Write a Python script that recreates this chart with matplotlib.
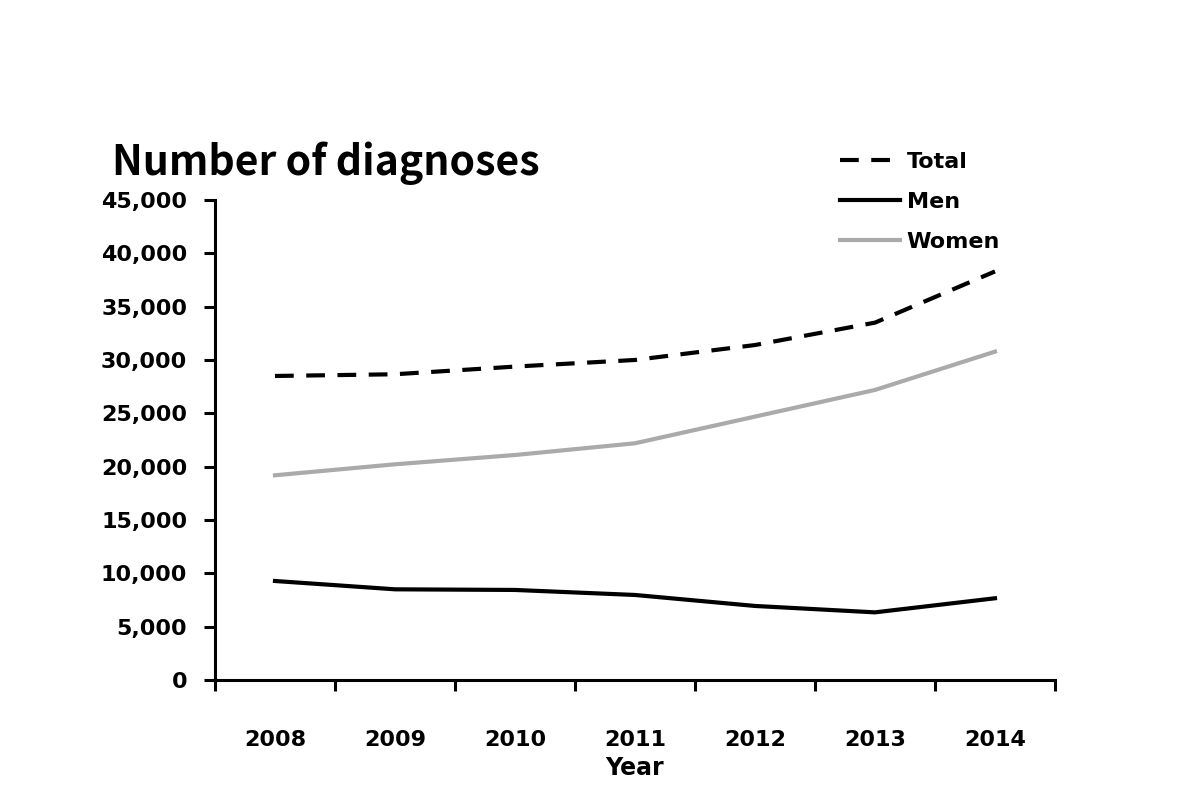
import numpy as np
import matplotlib
matplotlib.use('Agg')
import matplotlib.pyplot as plt
from matplotlib.ticker import FuncFormatter

plt.rcParams['font.family'] = ['DejaVu Sans']

years = ['2008', '2009', '2010', '2011', '2012', '2013', '2014']
total = [28500, 28660, 29380, 30000, 31400, 33500, 38300]
men = [9280, 8500, 8440, 7970, 6940, 6340, 7660]
women = [19190, 20220, 21090, 22190, 24690, 27190, 30780]

fig = plt.figure(figsize=(11.91, 8.05), dpi=100)
ax = fig.add_axes([0.1805, 0.1553, 0.7053, 0.5963])

x = np.arange(len(years)) + 0.5
ax.plot(x, total, color='black', lw=3, ls=(0, (4.5, 3)), label='Total')
ax.plot(x, men, color='black', lw=3, label='Men')
ax.plot(x, women, color='#aaaaaa', lw=3, label='Women')

ax.set_xlim(0, len(years))
ax.set_ylim(0, 45000)
ax.set_xticks(np.arange(len(years) + 1))
ax.set_xticklabels([])
ax.set_xticks(x, minor=True)
ax.set_xticklabels(years, minor=True, fontsize=16, fontweight='bold')
ax.tick_params(axis='x', which='minor', length=0, pad=36)
ax.tick_params(axis='x', which='major', length=8, width=2.2, direction='out')
ax.set_yticks(np.arange(0, 45001, 5000))
ax.yaxis.set_major_formatter(FuncFormatter(lambda v, p: f'{int(v):,}'))
ax.tick_params(axis='y', length=8, width=2.2, direction='out', labelsize=16, pad=12)
for lb in ax.get_yticklabels():
    lb.set_fontweight('bold')

for s in ['top', 'right']:
    ax.spines[s].set_visible(False)
for s in ['left', 'bottom']:
    ax.spines[s].set_linewidth(2.2)

ax.set_xlabel('Year', fontsize=17, fontweight='bold', labelpad=4)
fig.text(112/1191, 1-163/805, 'Number of diagnoses', fontsize=29.5,
         fontweight='bold', family='Noto Sans CJK KR', va='center', ha='left')

fig.legend(loc='upper left', bbox_to_anchor=(840/1191, 1-152/805), frameon=False,
           prop={'size': 16, 'weight': 'bold'}, handlelength=2.7,
           handletextpad=0.3, labelspacing=0.9, borderpad=0, borderaxespad=0)

fig.savefig('out.png', dpi=100)
